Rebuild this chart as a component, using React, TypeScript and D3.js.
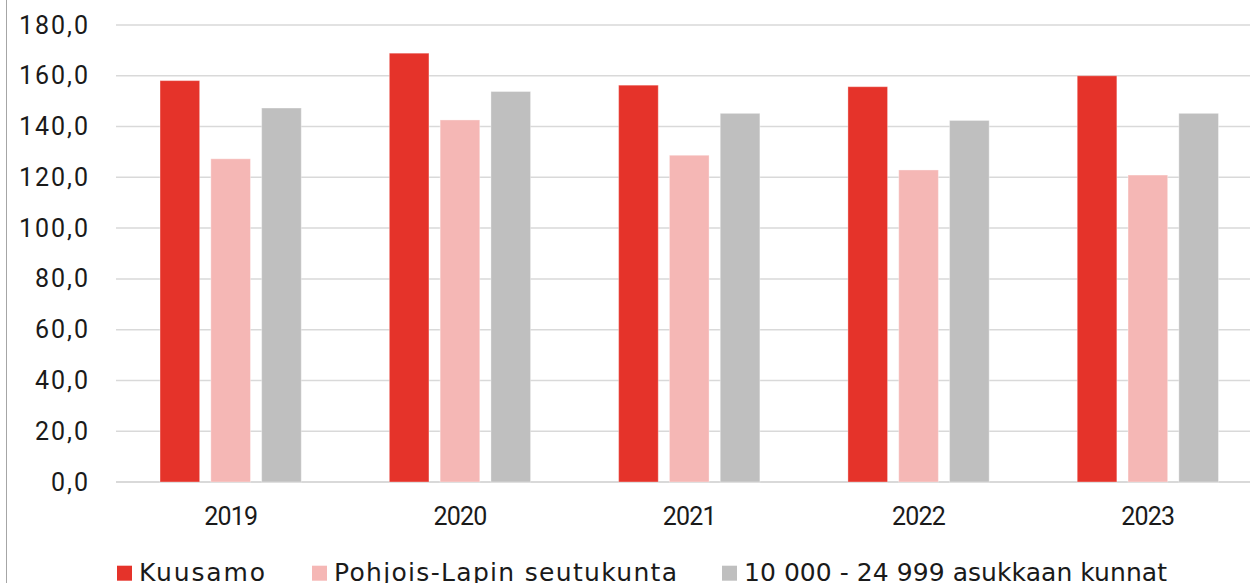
import * as d3 from 'd3';

const years = ['2019', '2020', '2021', '2022', '2023'];
const kuusamo = [158.1, 168.9, 156.3, 155.7, 160.0];
const pohjoisLappi = [127.3, 142.6, 128.7, 122.9, 120.9];
const kunnat = [147.3, 153.8, 145.2, 142.4, 145.2];
const seriesNames = ['Kuusamo', 'Pohjois-Lapin seutukunta', '10 000 - 24 999 asukkaan kunnat'];
const yTicks = [0, 20, 40, 60, 80, 100, 120, 140, 160, 180];

const colors = ['#E5332A', '#F5B7B5', '#BFBFBF'];
// legend layout (start x of swatch, width of label text)
const legendX = [117, 312, 722];
const legendTextW = [126, 343, 423];

export default function App() {
    const width = 1250;
    const height = 583;
    const margin = { top: 25, left: 116, bottom: 101 };
    const plotRight = margin.left + 5 * 229.3;

    const series = [kuusamo, pohjoisLappi, kunnat];

    const x0 = d3.scaleBand<string>().domain(years).range([margin.left, plotRight]).paddingInner(0.384).paddingOuter(0.192);
    const x1 = d3.scaleBand<number>().domain([0, 1, 2]).range([0, x0.bandwidth()]).paddingInner(0.22);
    const y = d3.scaleLinear().domain([0, 180]).range([height - margin.bottom, margin.top]);

    const fmt = (v: number) => v.toFixed(1).replace('.', ',');

    return (
        <svg width={width} height={height} style={{ position: 'absolute', left: 0, top: 0, background: '#fff' }}>
            <line x1={6.5} x2={6.5} y1={0} y2={height} stroke="#A6A6A6" strokeWidth={1} />

            {/* gridlines */}
            {yTicks.map((t) => (
                <line key={t} x1={margin.left} x2={plotRight} y1={y(t)} y2={y(t)} stroke="#D9D9D9" strokeWidth={t === 0 ? 2 : 1.5} />
            ))}

            {/* y labels */}
            {yTicks.map((t) => (
                <text key={t} x={90} y={y(t) + 8.5} textAnchor="end" fontFamily="Roboto" fontSize={25} fill="#1a1a1a" letterSpacing={2}>
                    {fmt(t)}
                </text>
            ))}

            {/* bars */}
            {series.map((vals, si) =>
                vals.map((v, i) => (
                    <rect
                        key={`${si}-${i}`}
                        x={x0(years[i])! + x1(si)!}
                        y={y(v)}
                        width={x1.bandwidth()}
                        height={y(0) - y(v)}
                        fill={colors[si]}
                        stroke="#fff"
                        strokeOpacity={0.35}
                        strokeWidth={1}
                    />
                ))
            )}

            {/* x labels */}
            {years.map((yr) => (
                <text key={yr} x={x0(yr)! + x0.bandwidth() / 2} y={524.5} textAnchor="middle" fontFamily="Roboto" fontSize={25} fill="#1a1a1a" letterSpacing={-0.8}>
                    {yr}
                </text>
            ))}

            {/* legend */}
            {seriesNames.map((name, si) => (
                <g key={name} transform={`translate(${legendX[si]},0)`}>
                    <rect x={0} y={565.7} width={15} height={15} fill={colors[si]} />
                    <text x={22} y={580.5} fontFamily="DejaVu Sans" fontSize={25} textLength={legendTextW[si]} lengthAdjust="spacing" fill="#1a1a1a">
                        {name}
                    </text>
                </g>
            ))}
        </svg>
    );
}
